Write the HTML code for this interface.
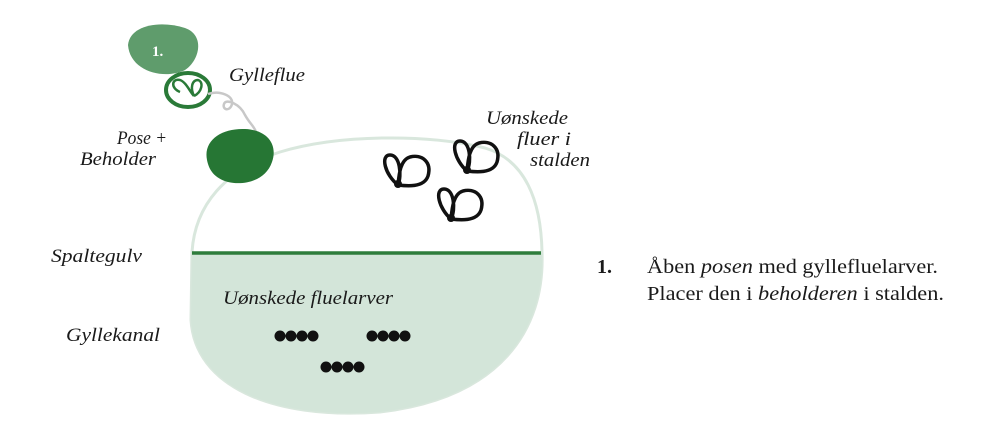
<!DOCTYPE html>
<html><head><meta charset="utf-8"><style>
html,body{margin:0;padding:0;background:#fff;}
svg{display:block;}
.t{font-family:"Liberation Serif",serif;font-style:italic;font-size:19px;fill:#1a1a1a;}
.r{font-family:"Liberation Serif",serif;font-size:20px;fill:#1a1a1a;}
</style></head><body>
<svg width="1000" height="429" viewBox="0 0 1000 429" xmlns="http://www.w3.org/2000/svg">
<defs>
<clipPath id="low"><rect x="0" y="253" width="1000" height="200"/></clipPath>
</defs>
<path d="M192,252 C195,205 225,170 280,152 C340,134 430,134 485,148 C525,160 541,200 542,252 C545,330 500,398 380,412 C270,420 195,385 191,320 Z" fill="#fff" stroke="#d9e7dd" stroke-width="3"/>
<path d="M192,252 C195,205 225,170 280,152 C340,134 430,134 485,148 C525,160 541,200 542,252 C545,330 500,398 380,412 C270,420 195,385 191,320 Z" fill="#d3e5d9" clip-path="url(#low)"/>
<line x1="192" y1="253" x2="541" y2="253" stroke="#2e7d3c" stroke-width="3.5"/>
<path d="M128,45 C130,25 160,20 185,28 C205,35 200,60 185,70 C165,80 130,72 128,45 Z" fill="#5f9c6c"/>
<text x="152" y="56" font-family="Liberation Serif,serif" font-weight="bold" font-size="15" fill="#fff">1.</text>
<ellipse cx="188" cy="90" rx="22" ry="17" fill="#fff" stroke="#2a7a38" stroke-width="4"/>
<path d="M180,92 C170,88 172,78 180,80 C186,82 190,92 194,96 M194,96 C190,88 192,80 198,80 C204,82 202,92 194,96" fill="none" stroke="#2a7a38" stroke-width="2.5"/>
<path d="M208,94 C220,90 234,96 232,104 C230,112 222,110 224,104 C226,98 240,104 245,115 C250,124 254,126 256,132" fill="none" stroke="#c8c8c8" stroke-width="2.5"/>
<path d="M207,160 C203,140 222,128 245,129 C268,130 278,145 272,162 C266,180 245,186 228,182 C214,178 209,170 207,160 Z" fill="#267634"/>
<g fill="none" stroke="#111" stroke-width="3.5" stroke-linecap="round">
<path d="M398,185 C385,175 380,155 390,155 C400,155 402,175 398,185 C406,186 424,188 428,176 C432,162 422,154 410,157 C400,160 399,175 398,185"/>
<path d="M467,171 C455,161 450,141 460,141 C470,141 472,161 467,171 C475,172 493,174 497,162 C501,148 491,140 479,143 C469,146 468,161 467,171"/>
<path d="M451,219 C439,209 434,189 444,189 C454,189 456,209 451,219 C459,220 477,222 481,210 C485,196 475,188 463,191 C453,194 452,209 451,219"/>
</g>
<circle cx="398" cy="184" r="4" fill="#111"/><circle cx="467" cy="170" r="4" fill="#111"/><circle cx="451" cy="218" r="4" fill="#111"/>
<g fill="#111">
<circle cx="280" cy="336" r="5.5"/><circle cx="291" cy="336" r="5.5"/><circle cx="302" cy="336" r="5.5"/><circle cx="313" cy="336" r="5.5"/>
<circle cx="372" cy="336" r="5.5"/><circle cx="383" cy="336" r="5.5"/><circle cx="394" cy="336" r="5.5"/><circle cx="405" cy="336" r="5.5"/>
<circle cx="326" cy="367" r="5.5"/><circle cx="337" cy="367" r="5.5"/><circle cx="348" cy="367" r="5.5"/><circle cx="359" cy="367" r="5.5"/>
</g>
<text class="t" x="229" y="81" textLength="76" lengthAdjust="spacingAndGlyphs">Gylleflue</text>
<text class="t" x="117" y="144" textLength="50" lengthAdjust="spacingAndGlyphs">Pose +</text>
<text class="t" x="80" y="165" textLength="76" lengthAdjust="spacingAndGlyphs">Beholder</text>
<text class="t" x="51" y="262" textLength="91" lengthAdjust="spacingAndGlyphs">Spaltegulv</text>
<text class="t" x="66" y="341" textLength="94" lengthAdjust="spacingAndGlyphs">Gyllekanal</text>
<text class="t" x="223" y="304" textLength="170" lengthAdjust="spacingAndGlyphs">Uønskede fluelarver</text>
<text class="t" x="486" y="124" textLength="82" lengthAdjust="spacingAndGlyphs">Uønskede</text>
<text class="t" x="517" y="145" textLength="54" lengthAdjust="spacingAndGlyphs">fluer i</text>
<text class="t" x="530" y="166" textLength="60" lengthAdjust="spacingAndGlyphs">stalden</text>
<text class="r" x="597" y="273" font-weight="bold">1.</text>
<text class="r" x="647" y="273" textLength="291" lengthAdjust="spacingAndGlyphs">Åben <tspan font-style="italic">posen</tspan> med gyllefluelarver.</text>
<text class="r" x="647" y="300" textLength="297" lengthAdjust="spacingAndGlyphs">Placer den i <tspan font-style="italic">beholderen</tspan> i stalden.</text>
</svg>
</body></html>
